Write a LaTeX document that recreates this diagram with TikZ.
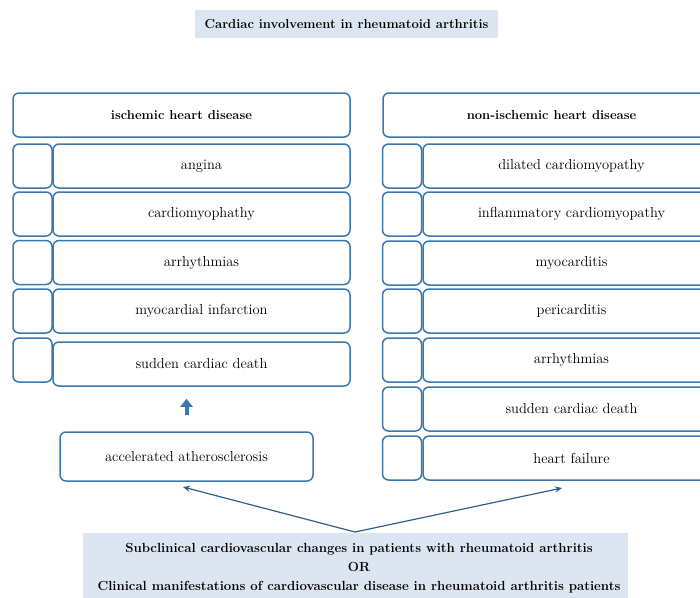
\documentclass[tikz,border=0pt]{standalone}
\usepackage{tikz}
\usetikzlibrary{arrows.meta}

\definecolor{rablue}{HTML}{3A78B0}
\definecolor{rafill}{HTML}{DCE6F2}
\definecolor{radark}{HTML}{2F5F8F}

\begin{document}
\begin{tikzpicture}[x=1pt, y=-1pt,
		box/.style={draw=rablue, line width=1.5pt, rounded corners=6pt, fill=white, inner sep=0pt, minimum height=44pt, font=\fontsize{14.5}{17}\selectfont},
		hdr/.style={box, minimum width=337pt, font=\fontsize{13}{15}\selectfont\bfseries},
		cell/.style={box, minimum width=297pt},
		tick/.style={box, minimum width=39pt},
		note/.style={fill=rafill, inner sep=0pt, align=center, font=\fontsize{13.2}{19}\selectfont\bfseries},
		link/.style={draw=radark, line width=1.2pt, -{Stealth[length=7pt, width=6pt]}},
		blockarrow/.style={draw=rablue, line width=4pt, -{Triangle[length=8pt, width=12pt]}}]
				\useasboundingbox (0, 0) rectangle (700, 597);
				\clip (0, 0) rectangle (700, 597);

				% title
				\node[note, minimum width=303pt, minimum height=28pt, font=\fontsize{13}{15}\selectfont\bfseries] (title) at (346.5, 24.0) {Cardiac involvement in rheumatoid arthritis};

				% ischemic column
				\node[hdr] (ihd) at (181.5, 115.0) {ischemic heart disease};
				\node[tick] (ibox1) at (32.5, 166.0) {};
				\node[cell] (angina) at (201.5, 166.0) {angina};
				\node[tick] (ibox2) at (32.5, 214.0) {};
				\node[cell] (cmp) at (201.5, 214.0) {cardiomyophathy};
				\node[tick] (ibox3) at (32.5, 262.5) {};
				\node[cell] (iarr) at (201.5, 262.5) {arrhythmias};
				\node[tick] (ibox4) at (32.5, 311.0) {};
				\node[cell] (mi) at (201.5, 311.0) {myocardial infarction};
				\node[tick] (ibox5) at (32.5, 360.0) {};
				\node[cell] (iscd) at (201.5, 364.0) {sudden cardiac death};

				\node[box, minimum width=253pt, minimum height=49pt] (athero) at (186.5, 456.5) {accelerated atherosclerosis};
				\draw[blockarrow, shorten <=16pt, shorten >=12pt] (athero.north) -- (athero.north |- iscd.south);

				% non-ischemic column
				\node[hdr] (nihd) at (551.5, 115.0) {non-ischemic heart disease};
				\node[tick] (nbox1) at (402.0, 166.0) {};
				\node[cell] (dcm) at (571.5, 166.0) {dilated cardiomyopathy};
				\node[tick] (nbox2) at (402.0, 214.0) {};
				\node[cell] (icm) at (571.5, 214.0) {inflammatory cardiomyopathy};
				\node[tick] (nbox3) at (402.0, 263.0) {};
				\node[cell] (myo) at (571.5, 263.0) {myocarditis};
				\node[tick] (nbox4) at (402.0, 311.0) {};
				\node[cell] (peri) at (571.5, 311.0) {pericarditis};
				\node[tick] (nbox5) at (402.0, 360.0) {};
				\node[cell] (narr) at (571.5, 360.0) {arrhythmias};
				\node[tick] (nbox6) at (402.0, 409.0) {};
				\node[cell] (nscd) at (571.5, 409.0) {sudden cardiac death};
				\node[tick] (nbox7) at (402.0, 458.0) {};
				\node[cell] (hf) at (571.5, 458.0) {heart failure};

				% bottom
				\node[note, minimum width=545pt, minimum height=72pt, anchor=north] (rapat) at (355.5, 533.0) {};
				\node[note, fill=none] (ratext) at (359.0, 568.0) {Subclinical cardiovascular changes in patients with rheumatoid arthritis\\OR\\Clinical manifestations of cardiovascular disease in rheumatoid arthritis patients};
				\coordinate (apex) at (355.0, 532.0);
				\coordinate (ltip) at (183.0, 487.0);
				\coordinate (rtip) at (562.0, 488.0);
				\draw[link] (apex) -- (ltip);
				\draw[link] (apex) -- (rtip);
			\end{tikzpicture}
\end{document}
